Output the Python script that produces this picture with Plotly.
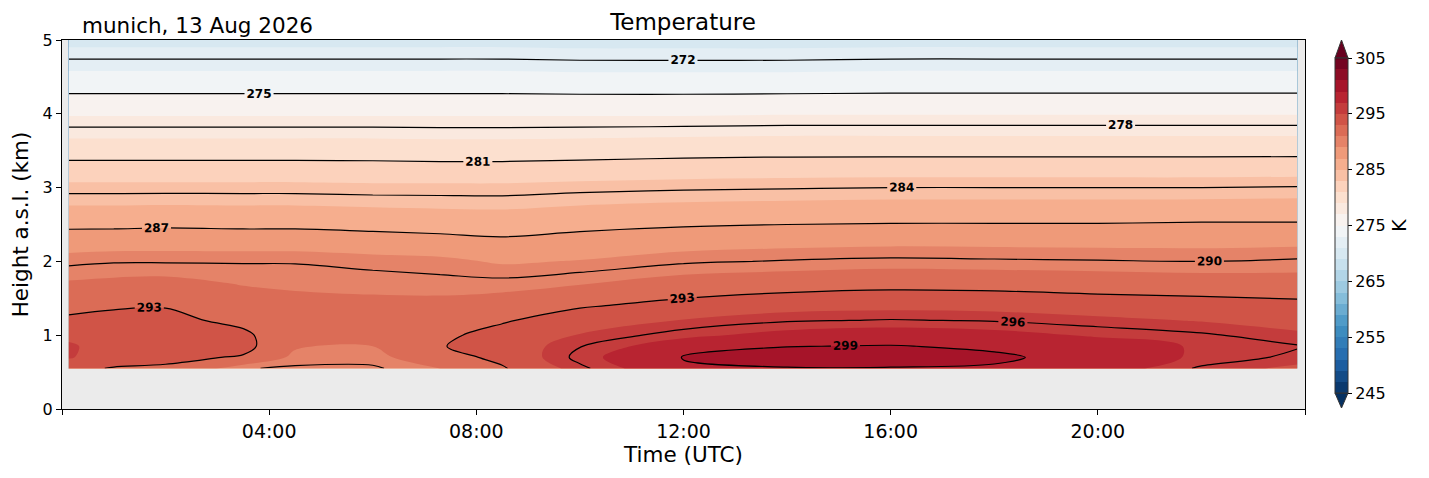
import plotly.graph_objs as go

# 时间 (UTC, 小时) 和高度 (km)
hours = [0.13, 1, 2, 3.5, 4.5, 6, 7.3, 8.5, 10, 12, 14, 16, 18, 20, 22, 23.85]
heights = [0.55, 0.7, 0.85, 1.0, 1.2, 1.4, 1.7, 2.0, 2.5, 3.0, 3.5, 4.0, 4.5, 5.0]

# 温度 (K), 每行对应一个高度
temp_055 = [293.4, 292.9, 292.7, 290.1, 289.8, 289.8, 291.0, 292.8, 295.7, 298.7, 298.9, 298.9, 298.8, 298.0, 295.8, 294.6]
temp_070 = [295.2, 293.7, 293.5, 292.8, 290.6, 290.5, 292.2, 293.5, 296.4, 299.1, 299.8, 299.8, 299.3, 298.3, 296.7, 295.7]
temp_085 = [295.3, 294.0, 293.8, 293.6, 291.2, 291.0, 292.9, 293.8, 295.95, 298.1, 298.95, 299.1, 298.7, 297.9, 296.8, 296.1]
temp_100 = [294.5, 293.9, 293.8, 293.4, 291.5, 291.4, 292.6, 293.7, 295.1, 296.6, 297.6, 298.0, 297.6, 296.8, 296.2, 295.3]
temp_120 = [293.3, 293.5, 293.5, 292.5, 291.6, 291.6, 292.0, 292.8, 294.0, 295.1, 295.85, 296.1, 295.9, 295.4, 294.9, 294.3]
temp_140 = [292.5, 292.8, 292.9, 291.9, 291.4, 291.4, 291.5, 291.9, 292.8, 293.6, 294.3, 294.5, 294.4, 294.0, 293.8, 293.5]
temp_170 = [291.2, 291.4, 291.5, 290.9, 290.8, 290.6, 290.4, 290.4, 290.9, 291.8, 292.1, 292.4, 292.3, 292.1, 291.9, 291.8]
temp_200 = [289.7, 289.9, 289.9, 289.9, 289.9, 289.6, 289.4, 288.8, 289.1, 289.8, 290.1, 290.3, 290.2, 290.1, 290.0, 290.2]
temp_250 = [286.6, 286.6, 286.7, 286.6, 286.6, 286.4, 286.2, 286.1, 286.5, 286.8, 287.0, 287.1, 287.1, 287.1, 287.2, 287.2]
temp_300 = [283.5, 283.5, 283.5, 283.5, 283.5, 283.4, 283.4, 283.4, 283.6, 283.8, 283.9, 284.0, 284.0, 284.0, 284.0, 284.1]
temp_350 = [280.1, 280.1, 280.1, 280.1, 280.1, 280.1, 280.0, 280.0, 280.1, 280.3, 280.4, 280.4, 280.4, 280.4, 280.4, 280.4]
temp_400 = [276.8, 276.8, 276.8, 276.8, 276.8, 276.8, 276.8, 276.8, 276.8, 276.8, 276.9, 276.9, 276.9, 276.9, 276.9, 276.9]
temp_450 = [273.5, 273.5, 273.5, 273.5, 273.5, 273.5, 273.5, 273.5, 273.4, 273.4, 273.4, 273.5, 273.5, 273.5, 273.5, 273.5]
temp_500 = [270.4, 270.4, 270.4, 270.4, 270.4, 270.4, 270.4, 270.4, 270.3, 270.3, 270.3, 270.4, 270.4, 270.4, 270.4, 270.4]

# 坐标轴刻度
x_tick_vals = [0, 4, 8, 12, 16, 20, 24]
x_tick_text = ["", "04:00", "08:00", "12:00", "16:00", "20:00", ""]
cbar_ticks = [245, 255, 265, 275, 285, 295, 305]

# RdBu_r 颜色
rdbu_r = ["rgb(5,48,97)", "rgb(33,102,172)", "rgb(67,147,195)", "rgb(146,197,222)",
          "rgb(209,229,240)", "rgb(247,247,247)", "rgb(253,219,199)", "rgb(244,165,130)",
          "rgb(214,96,77)", "rgb(178,24,43)", "rgb(103,0,31)"]

FONT = "DejaVu Sans"
W, H = 1429, 478
OFF = 8  # 页面 body 的默认边距
L, R, T, B = 62, 1305, 40, 409


def px_x(px):
    return (px - L) / (R - L)


def px_y(py):
    return (B - py) / (B - T)


def draw_temperature_graph():
    temperature = [temp_055, temp_070, temp_085, temp_100, temp_120, temp_140, temp_170,
                   temp_200, temp_250, temp_300, temp_350, temp_400, temp_450, temp_500]
    colorscale = [[i / (len(rdbu_r) - 1), c] for i, c in enumerate(rdbu_r)]

    # 填充等值线
    trace_fill = go.Contour(
        x=hours, y=heights, z=temperature,
        colorscale=colorscale, zmin=245, zmax=305,
        contours=dict(start=245, end=305, size=2, coloring="fill", showlines=False),
        line=dict(width=0),
        colorbar=dict(
            x=px_x(1335), xanchor="left", xpad=0, ypad=0,
            y=px_y((58 + 393) / 2), yanchor="middle",
            lenmode="pixels", len=335, thickness=13,
            outlinewidth=1, outlinecolor="#333333",
            tickvals=cbar_ticks, ticks="outside", ticklen=4, tickcolor="black",
            tickfont=dict(family=FONT, size=16, color="black"),
            title=dict(text="K", side="right", font=dict(family=FONT, size=19, color="black")),
        ),
        hoverinfo="skip",
    )
    # 黑色等值线 + 标签
    trace_lines = go.Contour(
        x=hours, y=heights, z=temperature,
        contours=dict(start=272, end=299, size=3, coloring="none", showlabels=True,
                      labelfont=dict(family=FONT, size=12, color="black", weight="bold")),
        line=dict(color="black", width=1.2),
        showscale=False,
        hoverinfo="skip",
    )

    # colorbar 两端的三角
    cx0, cx1 = px_x(1335), px_x(1348)
    cxm = (cx0 + cx1) / 2
    shapes = [
        dict(type="path", xref="paper", yref="paper",
             path=f"M {cx0},{px_y(58)} L {cx1},{px_y(58)} L {cxm},{px_y(40)} Z",
             fillcolor=rdbu_r[-1], line=dict(color="#333333", width=1)),
        dict(type="path", xref="paper", yref="paper",
             path=f"M {cx0},{px_y(393)} L {cx1},{px_y(393)} L {cxm},{px_y(408)} Z",
             fillcolor=rdbu_r[0], line=dict(color="#333333", width=1)),
    ]

    layout = go.Layout(
        width=W - OFF, height=H - OFF,
        margin=dict(l=L - OFF, r=W - R, t=T - OFF, b=H - B),
        paper_bgcolor="white", plot_bgcolor="#ebebeb",
        font=dict(family=FONT, color="black"),
        title=dict(text="Temperature", x=px_x(683), xref="paper", xanchor="center",
                   y=1 - (22 - OFF) / (H - OFF), yref="container", yanchor="middle",
                   font=dict(family=FONT, size=23, color="black")),
        xaxis=dict(range=[0, 24], tickvals=x_tick_vals, ticktext=x_tick_text,
                   ticks="outside", ticklen=5, tickcolor="black",
                   tickfont=dict(size=19),
                   showline=True, linecolor="black", linewidth=1, mirror=True,
                   showgrid=False, zeroline=False,
                   title=dict(text="Time (UTC)", font=dict(size=21.5), standoff=6)),
        yaxis=dict(range=[0, 5], dtick=1, ticks="outside", ticklen=5, tickcolor="black",
                   tickfont=dict(size=16),
                   showline=True, linecolor="black", linewidth=1, mirror=True,
                   showgrid=False, zeroline=False,
                   title=dict(text="Height a.s.l. (km)", font=dict(size=21.5), standoff=8)),
        shapes=shapes,
        annotations=[dict(text="munich, 13 Aug 2026", xref="paper", yref="paper",
                          x=px_x(80), y=1, xanchor="left", yanchor="bottom", yshift=0,
                          showarrow=False, font=dict(family=FONT, size=21.5, color="black"))],
    )

    figure = go.Figure(data=[trace_fill, trace_lines], layout=layout)
    figure.write_html("out.html")


if __name__ == "__main__":
    draw_temperature_graph()
